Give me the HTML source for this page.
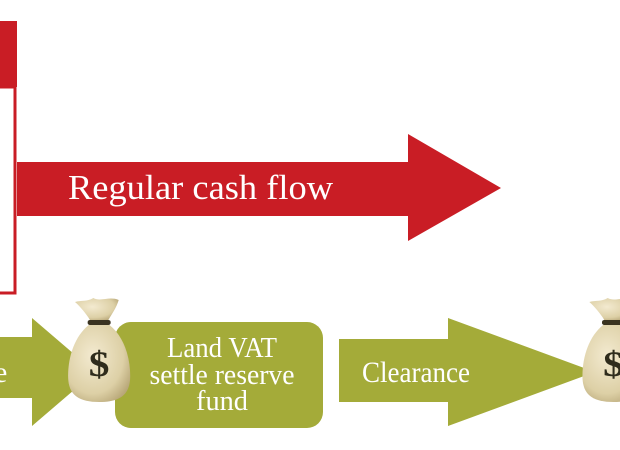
<!DOCTYPE html>
<html><head><meta charset="utf-8"><style>
html,body{margin:0;padding:0;background:#fff;width:620px;height:450px;overflow:hidden}
svg{display:block}
text{font-family:"Liberation Serif",serif;fill:#fff}
</style></head><body>
<svg width="620" height="450" viewBox="0 0 620 450">
<defs>
<radialGradient id="bg" cx="0.4" cy="0.4" r="0.7">
<stop offset="0" stop-color="#f3ead0"/><stop offset="0.7" stop-color="#ddd0a6"/><stop offset="1" stop-color="#b8a778"/>
</radialGradient>
<g id="bag">
<path d="M20,2 C26,6 34,0 42,4 C40,12 36,18 33,24 L17,24 C14,18 8,10 4,6 C10,4 14,6 20,2Z" fill="url(#bg)"/>
<rect x="15" y="24" width="20" height="5" rx="2" fill="#3a3320"/>
<path d="M16,29 L34,29 C46,40 52,60 52,80 C52,98 44,106 25,106 C6,106 -2,98 -2,80 C-2,60 4,40 16,29Z" fill="url(#bg)"/>
<text x="25" y="80" font-size="36" font-weight="bold" text-anchor="middle" style="fill:#2f2c1c">$</text>
</g>
</defs>
<rect x="0" y="21" width="17" height="66" fill="#c91d25"/>
<rect x="-5" y="87" width="20" height="206" fill="none" stroke="#c91d25" stroke-width="3"/>
<polygon points="17,162 408,162 408,134 501,188 408,241 408,216 17,216" fill="#c91d25"/>
<text x="68" y="199" font-size="35" textLength="265" lengthAdjust="spacingAndGlyphs">Regular cash flow</text>
<polygon points="0,337 32,337 32,318 95,372 32,426 32,398 0,398" fill="#a4ab39"/>
<text x="-6" y="382" font-size="30">e</text>
<rect x="115" y="322" width="208" height="106" rx="16" fill="#a4ab39"/>
<text x="222" y="357" font-size="29" text-anchor="middle" textLength="110" lengthAdjust="spacingAndGlyphs">Land VAT</text>
<text x="222" y="384" font-size="29" text-anchor="middle" textLength="145" lengthAdjust="spacingAndGlyphs">settle reserve</text>
<text x="222" y="410" font-size="29" text-anchor="middle" textLength="52" lengthAdjust="spacingAndGlyphs">fund</text>
<polygon points="339,339 448,339 448,318 520,372 448,426 448,402 339,402" fill="#a4ab39"/>
<polygon points="448,318 595,372 448,426" fill="#a4ab39"/>
<text x="362" y="382" font-size="30" textLength="108" lengthAdjust="spacingAndGlyphs">Clearance</text>
<use href="#bag" x="76" y="296" transform="translate(-17,0) scale(1.15,1)"/>
<use href="#bag" x="585" y="296" transform="translate(-88,0) scale(1.15,1)"/>
</svg>
</body></html>
